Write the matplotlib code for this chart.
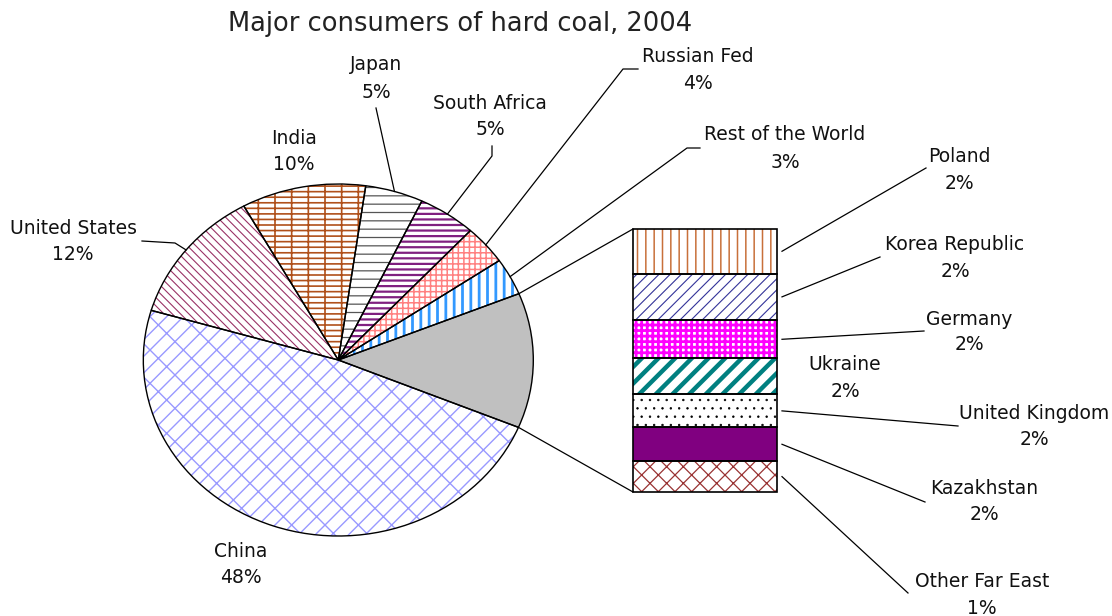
import matplotlib
matplotlib.use("Agg")
import matplotlib.pyplot as plt
import numpy as np

# ---------------- data ----------------
title = "Major consumers of hard coal, 2004"

# main pie slices, counter-clockwise starting after the "other" slice
main_labels = ["Rest of the World", "Russian Fed", "South Africa", "Japan",
               "India", "United States", "China"]
main_values = [3.4, 3.6, 4.8, 4.8, 10.3, 12.4, 48.3]

# breakdown bar (top to bottom)
bar_labels = ["Poland", "Korea Republic", "Germany", "Ukraine",
              "United Kingdom", "Kazakhstan", "Other Far East"]
bar_values = [2.1, 2.2, 1.8, 1.7, 1.55, 1.6, 1.45]

other_value = sum(bar_values)
pie_values = [other_value] + main_values
total = sum(pie_values)


def pct(v):
    return "%d%%" % int(v / total * 100 + 0.5)


# ---------------- styles ----------------
plt.rcParams["font.family"] = ["DejaVu Sans"]
plt.rcParams["hatch.linewidth"] = 1.0
W, H = 1112, 616
FS = 13.5

# (facecolor, hatchcolor, hatch, hatch linewidth)
pie_styles = [
    ("#C0C0C0", "#C0C0C0", None, 1.0),        # other
    ("white", "#3399FF", "||", 2.0),           # rest of world
    ("white", "#FF8080", "+++", 1.1),          # russia
    ("white", "#802080", "---", 1.6),          # south africa
    ("white", "#555555", "--", 0.9),           # japan
    ("white", "#B0501A", "---|", 1.2),         # india
    ("white", "#993366", "\\\\\\\\", 0.8),     # usa
    ("white", "#9999FF", "//\\", 1.0),         # china
]
bar_styles = [
    ("white", "#C8703A", "||", 1.1),           # poland
    ("white", "#333399", "///", 0.8),          # korea
    ("white", "#FF00FF", "+++", 2.0),          # germany
    ("white", "#008080", "//", 3.2),           # ukraine
    ("white", "black", "..", 0.5),             # uk
    ("#800080", "#800080", None, 1.0),         # kazakhstan
    ("white", "#993333", "xx", 0.9),           # other far east
]


def style_patch(p, st):
    fc, hc, hatch, hlw = st
    p.set_facecolor(fc)
    p.set_edgecolor(hc)
    p.set_linewidth(0)
    if hatch:
        p.set_hatch(hatch)
        if hasattr(p, "set_hatch_linewidth"):
            p.set_hatch_linewidth(hlw)


fig = plt.figure(figsize=(W / 100, H / 100), dpi=100)
fig.patch.set_facecolor("white")


def fig_box(x0, y0, x1, y1):
    return [x0 / W, 1 - y1 / H, (x1 - x0) / W, (y1 - y0) / H]


# ---------------- pie ----------------
START = -22.5
pax = fig.add_axes(fig_box(143.3, 184, 533.3, 536))
wedges, _ = pax.pie(pie_values, startangle=START, counterclock=True, radius=1)
for w, st in zip(wedges, pie_styles):
    style_patch(w, st)
pax.pie(pie_values, startangle=START, counterclock=True, radius=1,
        wedgeprops=dict(fill=False, edgecolor="black", linewidth=1.0))
pax.set_aspect("auto")
pax.set_xlim(-1, 1)
pax.set_ylim(-1, 1)
pax.axis("off")

# ---------------- bar ----------------
bax = fig.add_axes(fig_box(633, 229, 777, 492))
n = len(bar_values)
bottoms = np.concatenate([[0], np.cumsum(bar_values)[:-1]])
xs = [0.5] * n
bars = bax.bar(xs, bar_values, width=1.0, bottom=bottoms)
for b, st in zip(bars, bar_styles):
    style_patch(b, st)
bax.bar(xs, bar_values, width=1.0, bottom=bottoms, fill=False,
        edgecolor="black", linewidth=1.2, clip_on=False)
bax.set_xlim(0, 1)
bax.set_ylim(other_value, 0)
bax.axis("off")

# ---------------- overlay (text, leaders) ----------------
oax = fig.add_axes([0, 0, 1, 1])
oax.set_xlim(0, W)
oax.set_ylim(H, 0)
oax.axis("off")
inv = oax.transData.inverted()


def pie_pt(theta):
    t = np.deg2rad(theta)
    return inv.transform(pax.transData.transform((np.cos(t), np.sin(t))))


def bar_pt(x, y):
    return inv.transform(bax.transData.transform((x, y)))


oax.text(460, 31, title, fontsize=18.5, ha="center", va="baseline", color="#222222")

# connector lines other-slice -> bar
ow = wedges[0]
p_top = pie_pt(ow.theta2)
p_bot = pie_pt(ow.theta1)
b_top = bar_pt(0, 0)
b_bot = bar_pt(0, other_value)
oax.plot([p_top[0], b_top[0]], [p_top[1], b_top[1]], color="black", lw=0.9)
oax.plot([p_bot[0], b_bot[0]], [p_bot[1], b_bot[1]], color="black", lw=0.9)

# main labels: text centre x, name y, pct y, leader anchor points (None = no leader)
main_layout = {
    "Rest of the World": (785, 133, 161, [(700, 148), (687, 148)]),
    "Russian Fed": (698, 55, 82, [(638, 69), (623, 69)]),
    "South Africa": (490, 102, 128, [(492, 146), (492, 156)]),
    "Japan": (376, 63, 91, [(376, 108)]),
    "India": (294, 137, 163, None),
    "United States": (73, 227, 253, [(142, 241), (175, 243)]),
    "China": (241, 550, 576, None),
}
for w, lab, val in zip(wedges[1:], main_labels, main_values):
    cx, y1, y2, anchors = main_layout[lab]
    oax.text(cx, y1 + 7, lab, fontsize=FS, ha="center", va="baseline", color="#111111")
    oax.text(cx, y2 + 7, pct(val), fontsize=FS, ha="center", va="baseline", color="#111111")
    if anchors:
        mid = 0.5 * (w.theta1 + w.theta2)
        e = pie_pt(mid)
        pts = anchors + [tuple(e)]
        oax.plot([p[0] for p in pts], [p[1] for p in pts], color="black", lw=0.9)

bar_layout = {
    "Poland": (959, 155, 182, (926, 168)),
    "Korea Republic": (955, 243, 270, (880, 257)),
    "Germany": (969, 318, 343, (924, 331)),
    "Ukraine": (845, 363, 390, None),
    "United Kingdom": (1034, 412, 438, (958, 426)),
    "Kazakhstan": (984, 487, 513, (925, 502)),
    "Other Far East": (982, 580, 607, (908, 593)),
}
for b0, lab, val in zip(bottoms, bar_labels, bar_values):
    cx, y1, y2, anchor = bar_layout[lab]
    oax.text(cx, y1 + 7, lab, fontsize=FS, ha="center", va="baseline", color="#111111")
    oax.text(cx, y2 + 7, pct(val), fontsize=FS, ha="center", va="baseline", color="#111111")
    if anchor:
        s = bar_pt(1, b0 + val / 2)
        oax.plot([s[0] + 5, anchor[0]], [s[1], anchor[1]], color="black", lw=0.9)

fig.savefig("out.png", dpi=100, facecolor="white")
